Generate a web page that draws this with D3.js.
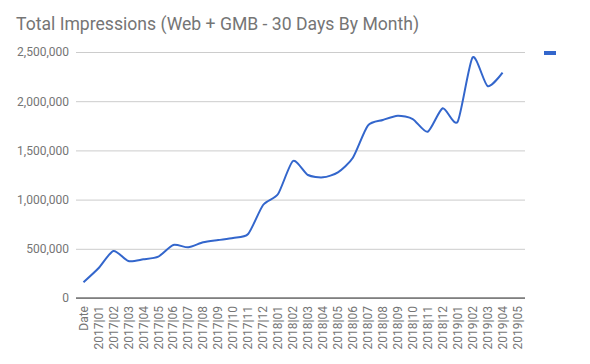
<!DOCTYPE html>
<html>
<head>
<meta charset="utf-8">
<script src="https://cdn.jsdelivr.net/npm/d3@7"></script>
<style>
  body { margin: 0; background: #fff; }
  svg text { font-family: Roboto, sans-serif; }
</style>
</head>
<body>
<div id="chart"></div>
<script>
// categories (first label is literally "Date" in the original sheet)
var months = ['Date',
  '2017|01', '2017|02', '2017|03', '2017|04', '2017|05', '2017|06',
  '2017|07', '2017|08', '2017|09', '2017|10', '2017|11', '2017|12',
  '2018|01', '2018|02', '2018|03', '2018|04', '2018|05', '2018|06',
  '2018|07', '2018|08', '2018|09', '2018|10', '2018|11', '2018|12',
  '2019|01', '2019|02', '2019|03', '2019|04', '2019|05'];

// total impressions (2019|05 has no value)
var impressions = [160000,
  302000, 478000, 376000, 393000, 420000, 539000,
  515000, 566000, 589000, 610000, 650000, 945000,
  1057000, 1392000, 1250000, 1226000, 1277000, 1426000,
  1752000, 1809000, 1853000, 1819000, 1690000, 1928000,
  1792000, 2446000, 2154000, 2290000, null];

var yTicks = [0, 500000, 1000000, 1500000, 2000000, 2500000];

var chartTitle = 'Total Impressions (Web + GMB - 30 Days By Month)';

var width = 590, height = 364;
var margin = {top: 52, right: 65, bottom: 66, left: 76};
var plotW = width - margin.left - margin.right,
    plotH = height - margin.top - margin.bottom;

var svg = d3.select('#chart').append('svg')
    .attr('width', width)
    .attr('height', height);

svg.append('text')
    .attr('x', 16)
    .attr('y', 30)
    .style('font-size', '17.6px')
    .style('fill', '#757575')
    .text(chartTitle);

var g = svg.append('g')
    .attr('transform', 'translate(' + margin.left + ',' + margin.top + ')');

var x = d3.scaleBand()
    .domain(months)
    .range([0, plotW]);

var y = d3.scaleLinear()
    .domain([0, 2500000])
    .range([plotH, 0]);

// gridlines + y labels
var yAxis = g.append('g')
    .call(d3.axisLeft(y).tickValues(yTicks).tickSize(-plotW).tickPadding(7)
        .tickFormat(d3.format(',')));
yAxis.select('.domain').remove();
yAxis.selectAll('line').attr('stroke', '#cccccc');
yAxis.selectAll('text')
    .style('font-size', '12px')
    .style('fill', '#757575');

// x labels, rotated
var xAxis = g.append('g')
    .attr('transform', 'translate(0,' + plotH + ')')
    .call(d3.axisBottom(x).tickSize(0));
xAxis.select('.domain').remove();
xAxis.selectAll('text')
    .attr('transform', 'rotate(-90)')
    .attr('x', -8)
    .attr('y', 0)
    .attr('dy', '0.35em')
    .style('text-anchor', 'end')
    .style('font-size', '12px')
    .style('fill', '#757575');

// baseline
g.append('line')
    .attr('x1', 0).attr('x2', plotW)
    .attr('y1', y(0)).attr('y2', y(0))
    .attr('stroke', '#333333')
    .attr('stroke-width', 1);

var line = d3.line()
    .defined(function (d) { return d != null; })
    .x(function (d, i) { return x(months[i]) + x.bandwidth() / 2; })
    .y(function (d) { return y(d); })
    .curve(d3.curveCardinal.tension(0.3));

g.append('path')
    .datum(impressions)
    .attr('fill', 'none')
    .attr('stroke', '#3366cc')
    .attr('stroke-width', 2)
    .attr('d', line);

// legend swatch (series has no name)
svg.append('rect')
    .attr('x', 544)
    .attr('y', 51)
    .attr('width', 12)
    .attr('height', 4)
    .attr('fill', '#3366cc');
</script>
</body>
</html>
